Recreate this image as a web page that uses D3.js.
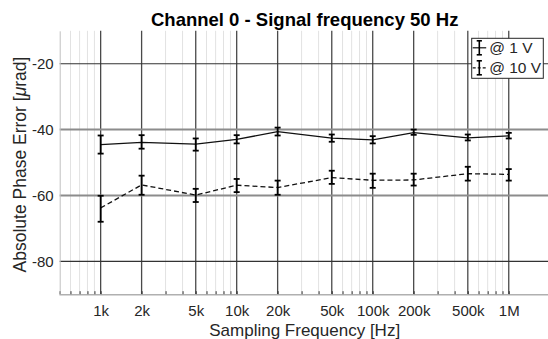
<!DOCTYPE html>
<html>
<head>
<meta charset="utf-8">
<script src="https://cdn.jsdelivr.net/npm/d3@7"></script>
<style>
  body { margin: 0; background: #fff; }
  svg { display: block; font-family: "Liberation Sans", Arial, sans-serif; }
</style>
</head>
<body>
<div id="chart"></div>
<script>
// ── Data ────────────────────────────────────────────────────────────────────
const freqs      = [1e3, 2e3, 5e3, 1e4, 2e4, 5e4, 1e5, 2e5, 5e5, 1e6];
const tickLabels = ['1k', '2k', '5k', '10k', '20k', '50k', '100k', '200k', '500k', '1M'];
const yTicks     = [-80, -60, -40, -20];

// @ 1 V
const mean1V = [-44.6, -43.9, -44.4, -43.0, -40.6, -42.6, -43.1, -40.9, -42.5, -41.9];
const hi1V   = [-41.8, -41.7, -42.7, -41.7, -39.4, -41.5, -42.0, -40.0, -41.5, -41.0];
const lo1V   = [-47.3, -45.8, -46.4, -44.2, -41.8, -43.7, -44.2, -41.6, -43.3, -42.7];

// @ 10 V
const mean10V = [-63.8, -56.8, -59.9, -56.9, -57.6, -54.6, -55.4, -55.3, -53.4, -53.6];
const hi10V   = [-60.1, -54.0, -58.0, -55.0, -55.5, -52.5, -53.4, -53.4, -51.3, -52.0];
const lo10V   = [-68.0, -59.8, -62.0, -59.0, -59.8, -56.5, -57.7, -57.0, -55.5, -55.5];

const seriesNames = ['@ 1 V', '@ 10 V'];

// ── Layout ──────────────────────────────────────────────────────────────────
const W = 548, H = 339;
const plot = { left: 59.7, right: 549.7, top: 30.8, bottom: 294.2 };
const textColor = '#262626';

const x = d3.scaleLog().domain([500, 2e6]).range([plot.left, plot.right]);
const y = d3.scaleLinear().domain([-90, -10]).range([plot.bottom, plot.top]);

const svg = d3.select('#chart').append('svg')
  .attr('width', W)
  .attr('height', H);

// ── Grid ────────────────────────────────────────────────────────────────────
const isMajor = v => freqs.some(f => Math.abs(f - v) < 1e-6);
const minor = x.ticks().filter(v => !isMajor(v) && v > 500 && v < 2e6);

svg.append('g').selectAll('line')
  .data(minor)
  .join('line')
  .attr('x1', d => x(d)).attr('x2', d => x(d))
  .attr('y1', plot.top).attr('y2', plot.bottom)
  .attr('stroke', '#e2e2e2')
  .attr('stroke-width', 1);

svg.append('g').selectAll('line')
  .data(freqs)
  .join('line')
  .attr('x1', d => x(d)).attr('x2', d => x(d))
  .attr('y1', plot.top).attr('y2', plot.bottom)
  .attr('stroke', '#4a4a4a')
  .attr('stroke-width', 1.3);

svg.append('g').selectAll('line')
  .data(yTicks)
  .join('line')
  .attr('x1', plot.left).attr('x2', plot.right)
  .attr('y1', d => y(d)).attr('y2', d => y(d))
  .attr('stroke', d => (d === -40 || d === -60) ? '#8c8c8c' : '#333')
  .attr('stroke-width', d => (d === -40 || d === -60) ? 2 : 1.2);

// ── Axes ────────────────────────────────────────────────────────────────────
svg.append('g')
  .attr('transform', `translate(0,${plot.bottom})`)
  .call(d3.axisBottom(x)
    .tickValues(x.ticks().filter(v => v >= 500 && v <= 1e6))
    .tickSize(-3)
    .tickPadding(11)
    .tickFormat(d => {
      const i = freqs.findIndex(f => Math.abs(f - d) < 1e-6);
      return i >= 0 ? tickLabels[i] : '';
    }))
  .call(ax => ax.select('.domain').attr('stroke', '#b0b0b0').attr('stroke-width', 1.5))
  .call(ax => ax.selectAll('line').attr('stroke', '#333'))
  .call(ax => ax.selectAll('text').attr('fill', textColor).style('font-size', '15px').style('font-family', null));

svg.append('g')
  .attr('transform', `translate(${plot.left},0)`)
  .call(d3.axisLeft(y).tickValues(yTicks).tickSize(0).tickPadding(6).tickFormat(d => String(d)))
  .call(ax => ax.select('.domain').attr('stroke', '#c0c0c0'))
  .call(ax => ax.selectAll('text').attr('fill', textColor).style('font-size', '15px').style('font-family', null));

// ── Series ──────────────────────────────────────────────────────────────────
function drawSeries(mean, hi, lo, dash) {
  const pts = freqs.map((f, i) => ({ f, m: mean[i], hi: hi[i], lo: lo[i] }));
  const line = d3.line().x(d => x(d.f)).y(d => y(d.m));

  svg.append('path')
    .datum(pts)
    .attr('fill', 'none')
    .attr('stroke', '#111')
    .attr('stroke-width', 1.3)
    .attr('stroke-dasharray', dash)
    .attr('d', line);

  const eb = svg.append('g').attr('stroke', '#000').attr('stroke-width', 1.8);
  eb.selectAll('.bar').data(pts).join('line')
    .attr('x1', d => x(d.f)).attr('x2', d => x(d.f))
    .attr('y1', d => y(d.hi)).attr('y2', d => y(d.lo));
  eb.selectAll('.capT').data(pts).join('line')
    .attr('x1', d => x(d.f) - 3).attr('x2', d => x(d.f) + 3)
    .attr('y1', d => y(d.hi)).attr('y2', d => y(d.hi));
  eb.selectAll('.capB').data(pts).join('line')
    .attr('x1', d => x(d.f) - 3).attr('x2', d => x(d.f) + 3)
    .attr('y1', d => y(d.lo)).attr('y2', d => y(d.lo));
}

drawSeries(mean1V, hi1V, lo1V, null);
drawSeries(mean10V, hi10V, lo10V, '5,3');

// ── Legend ──────────────────────────────────────────────────────────────────
const lg = svg.append('g').attr('transform', 'translate(471.7,38.3)');
lg.append('rect')
  .attr('width', 71.6).attr('height', 40)
  .attr('fill', '#fff')
  .attr('stroke', '#262626')
  .attr('stroke-width', 1);

seriesNames.forEach((name, i) => {
  const cy = 9.5 + i * 20;
  const row = lg.append('g').attr('transform', `translate(0,${cy})`);
  row.append('line')
    .attr('x1', 1).attr('x2', 14.5).attr('y1', 0).attr('y2', 0)
    .attr('stroke', '#111').attr('stroke-width', 1.2)
    .attr('stroke-dasharray', i === 1 ? '3,2' : null);
  row.append('line')
    .attr('x1', 7.6).attr('x2', 7.6).attr('y1', -7).attr('y2', 7)
    .attr('stroke', '#000').attr('stroke-width', 1.6);
  [-7, 7].forEach(dy => row.append('line')
    .attr('x1', 5).attr('x2', 10.2).attr('y1', dy).attr('y2', dy)
    .attr('stroke', '#000').attr('stroke-width', 1.6));
  row.append('text')
    .attr('x', 17.5).attr('y', 0).attr('dy', '0.35em')
    .attr('fill', textColor)
    .style('font-size', '15.5px')
    .text(name);
});

// ── Title and labels ────────────────────────────────────────────────────────
svg.append('text')
  .attr('x', (plot.left + plot.right) / 2).attr('y', 26)
  .attr('text-anchor', 'middle')
  .attr('fill', '#000')
  .style('font-size', '18.5px').style('font-weight', 'bold')
  .text('Channel 0 - Signal frequency 50 Hz');

svg.append('text')
  .attr('x', (plot.left + plot.right) / 2).attr('y', 336)
  .attr('text-anchor', 'middle')
  .attr('fill', textColor)
  .style('font-size', '17px')
  .text('Sampling Frequency [Hz]');

const yl = svg.append('text')
  .attr('transform', `translate(26,${(plot.top + plot.bottom) / 2 + 2}) rotate(-90)`)
  .attr('text-anchor', 'middle')
  .attr('fill', textColor)
  .style('font-size', '17.5px');
yl.append('tspan').text('Absolute Phase Error [');
yl.append('tspan').style('font-style', 'italic').text('\u03bc');
yl.append('tspan').text('rad]');
</script>
</body>
</html>
